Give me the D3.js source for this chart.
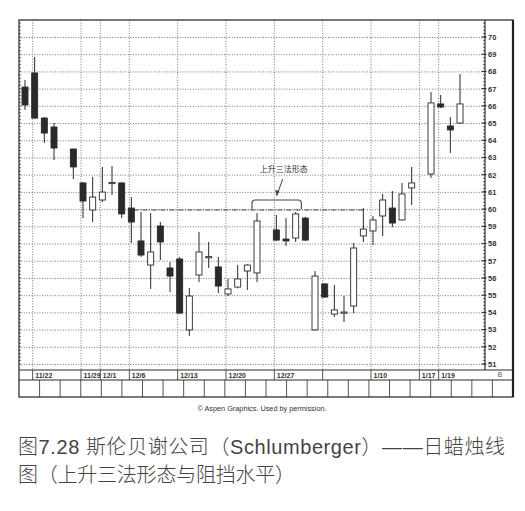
<!DOCTYPE html>
<html><head><meta charset="utf-8">
<script src="https://cdn.jsdelivr.net/npm/d3@7"></script>
<style>body{margin:0;background:#fff;} svg{display:block;}</style>
</head><body>
<script>
// ---- data ----
const slots = ["11/19","11/22","11/23","11/24","11/25","11/26","11/29","11/30","12/1","12/2","12/3",
  "12/6","12/7","12/8","12/9","12/10","12/13","12/14","12/15","12/16","12/17","12/20","12/21","12/22","12/23","12/24",
  "12/27","12/28","12/29","12/30","12/31","1/3","1/4","1/5","1/6","1/7","1/10","1/11","1/12","1/13","1/14",
  "1/17","1/18","1/19","1/20","1/21","1/24","1/25"];
const dates = ["11/19","11/22","11/23","11/24","11/26","11/29","11/30","12/1","12/2","12/3",
  "12/6","12/7","12/8","12/9","12/10","12/13","12/14","12/15","12/16","12/17","12/20","12/21","12/22","12/23",
  "12/27","12/28","12/29","12/30","12/31","1/3","1/4","1/5","1/6","1/7","1/10","1/11","1/12","1/13","1/14",
  "1/18","1/19","1/20","1/21"];
const open  = [67.09,67.91,65.29,64.77,63.49,61.52,59.95,60.53,61.50,61.52,
  60.06,58.15,56.75,59.02,56.58,57.10,52.98,56.17,57.20,56.64,55.07,55.47,56.40,56.29,
  58.79,58.26,58.32,59.48,52.98,55.65,53.90,54.00,54.37,58.44,58.73,59.60,60.06,59.37,61.23,
  62.04,66.11,64.83,65.00];
const high  = [67.50,68.84,65.35,65.00,63.52,61.57,61.87,62.45,62.50,61.55,
  60.70,59.83,59.77,59.25,56.93,57.22,55.42,58.67,58.09,57.22,55.94,56.75,56.80,59.77,
  59.66,59.48,59.83,59.55,56.40,55.70,55.59,54.95,58.03,60.06,59.60,60.88,61.05,61.52,62.45,
  66.80,66.63,65.35,67.85];
const low   = [65.76,65.25,63.84,62.85,61.75,59.48,59.25,60.41,60.82,59.48,
  58.03,57.22,55.36,57.04,55.18,53.90,52.63,55.76,56.58,55.12,54.95,55.40,55.30,55.76,
  58.15,57.86,58.09,58.15,52.95,54.85,53.73,53.44,53.96,58.09,57.91,58.44,58.96,59.33,60.24,
  61.81,65.87,63.26,64.97];
const close = [66.05,65.29,64.42,63.55,62.45,60.47,60.70,60.99,61.55,59.72,
  59.25,57.33,57.51,58.09,56.11,53.96,54.95,57.51,57.24,55.53,55.36,55.94,56.75,59.31,
  58.20,58.15,59.72,58.20,56.11,54.89,54.14,54.02,57.74,58.84,59.37,60.53,59.19,60.88,61.52,
  66.17,65.93,64.60,66.11];
const gridDates  = ["11/22","11/29","12/1","12/6","12/13","12/20","12/27","1/3","1/10","1/17","1/19"];
const gridLabels = ["11/22","11/29","12/1","12/6","12/13","12/20","12/27","","1/10","1/17","1/19"];
const priceTicks = d3.range(51, 71);
const resistance = 59.95;
const resistFrom = "12/6", resistTo = "1/7";
const patternFrom = "12/23", patternTo = "12/30";
const patternLabel = "上升三法形态";
const cells = d3.range(24);
const credit = "© Aspen Graphics. Used by permission.";
const caption1 = "图7.28 斯伦贝谢公司（Schlumberger）——日蜡烛线";
const caption2 = "图（上升三法形态与阻挡水平）";

// ---- layout ----
const L = 19, T = 20, AX = 485, R = 513, PB = 370, DB = 380, BB = 397;
const svg = d3.select("body").append("svg").attr("width", 525).attr("height", 511);
const x = d3.scalePoint().domain(slots).range([25, 479.35]);
const y = d3.scaleLinear().domain([51, 70]).range([364, 37]);
const ink = "#2a2a2a";

// horizontal dotted gridlines
svg.append("g").attr("transform", `translate(${AX},0)`)
  .call(d3.axisLeft(y).tickValues(priceTicks).tickSize(AX - L).tickFormat(""))
  .call(g => g.select(".domain").remove())
  .call(g => g.selectAll("line").attr("stroke", "#777").attr("stroke-dasharray", "1,1.6"));

// vertical dotted gridlines
svg.append("g").selectAll("line").data(gridDates).join("line")
  .attr("x1", d => x(d) - 2).attr("x2", d => x(d) - 2)
  .attr("y1", T).attr("y2", PB)
  .attr("stroke", "#777").attr("stroke-dasharray", "1,1.6");

// resistance line
svg.append("line")
  .attr("x1", x(resistFrom) + 2).attr("x2", x(resistTo))
  .attr("y1", y(resistance)).attr("y2", y(resistance))
  .attr("stroke", "#444").attr("stroke-width", 1.1).attr("stroke-dasharray", "5,1.5,1,1.5");

// candles
const rows = dates.map((d, i) => ({d, o: open[i], h: high[i], l: low[i], c: close[i]}));
const cg = svg.append("g");
cg.selectAll("line.wick").data(rows).join("line").attr("class", "wick")
  .attr("x1", r => x(r.d)).attr("x2", r => x(r.d))
  .attr("y1", r => y(r.h)).attr("y2", r => y(r.l))
  .attr("stroke", ink).attr("stroke-width", 1);
const bw = 6;
cg.selectAll("rect").data(rows).join("rect")
  .attr("x", r => x(r.d) - bw / 2)
  .attr("y", r => y(Math.max(r.o, r.c)))
  .attr("width", bw)
  .attr("height", r => Math.max(1.2, Math.abs(y(r.o) - y(r.c))))
  .attr("fill", r => r.c < r.o ? ink : "#fff")
  .attr("stroke", ink).attr("stroke-width", 0.9);

// pattern bracket + arrow + label
const bx1 = x(patternFrom) - 5, bx2 = x(patternTo) - 4;
const byTop = y(60.53), byBot = y(resistance) - 1;
svg.append("path")
  .attr("d", `M${bx1},${byBot} L${bx1},${byTop + 3} Q${bx1},${byTop} ${bx1 + 3},${byTop} L${bx2 - 3},${byTop} Q${bx2},${byTop} ${bx2},${byTop + 3} L${bx2},${byBot}`)
  .attr("fill", "none").attr("stroke", "#444").attr("stroke-width", 1.1);
const ax1 = (bx1 + bx2) / 2 + 6, ay1 = byTop - 21, ax2 = (bx1 + bx2) / 2, ay2 = byTop - 4;
svg.append("line").attr("x1", ax1).attr("y1", ay1).attr("x2", ax2).attr("y2", ay2)
  .attr("stroke", "#444").attr("stroke-width", 1);
svg.append("path")
  .attr("d", `M${ax2},${ay2} L${ax2 - 1.5},${ay2 - 6} L${ax2 + 2.8},${ay2 - 5} Z`).attr("fill", "#444");
svg.append("text").attr("x", (bx1 + bx2) / 2 + 7).attr("y", byTop - 28)
  .attr("text-anchor", "middle").attr("font-family", "Noto Sans CJK SC, sans-serif")
  .attr("font-size", 8).attr("fill", "#333").text(patternLabel);

// right price axis
const yAxis = svg.append("g").attr("transform", `translate(${AX},0)`)
  .call(d3.axisRight(y).tickValues(priceTicks).tickSize(0).tickPadding(3).tickFormat(d3.format("d")));
yAxis.select(".domain").remove();
yAxis.selectAll("text").attr("font-family", "Liberation Sans Narrow, Arial Narrow, Liberation Sans, sans-serif")
  .attr("font-weight", "bold").attr("font-size", 7.5).attr("fill", "#333");
svg.append("line").attr("x1", AX).attr("x2", AX).attr("y1", T).attr("y2", PB)
  .attr("stroke", ink).attr("stroke-width", 1.2);
const minor = d3.range(51 * 5, 70 * 5 + 5).map(v => v / 5);
svg.append("g").selectAll("line").data(minor).join("line")
  .attr("x1", AX - 2).attr("x2", AX).attr("y1", d => y(d)).attr("y2", d => y(d))
  .attr("stroke", ink).attr("stroke-width", 0.7);
svg.append("g").selectAll("line").data(priceTicks).join("line")
  .attr("x1", AX - 3.5).attr("x2", AX + 1.5).attr("y1", d => y(d)).attr("y2", d => y(d))
  .attr("stroke", ink).attr("stroke-width", 1);
// left ruler ticks
svg.append("g").selectAll("line").data(minor).join("line")
  .attr("x1", L).attr("x2", L + 2).attr("y1", d => y(d)).attr("y2", d => y(d))
  .attr("stroke", ink).attr("stroke-width", 0.7);

// date strip
svg.append("g").selectAll("line").data(gridDates).join("line")
  .attr("x1", d => x(d) - 2).attr("x2", d => x(d) - 2).attr("y1", PB).attr("y2", DB)
  .attr("stroke", ink).attr("stroke-width", 0.8);
svg.append("g").selectAll("text").data(gridDates).join("text")
  .attr("x", d => x(d) + 0.5).attr("y", DB - 2.5)
  .attr("font-family", "Liberation Sans Narrow, Arial Narrow, Liberation Sans, sans-serif")
  .attr("font-weight", "bold").attr("font-size", 7).attr("fill", "#333")
  .text((d, i) => gridLabels[i]);
svg.append("text").attr("x", 500).attr("y", DB - 3).attr("text-anchor", "middle")
  .attr("font-family", "Liberation Sans, sans-serif").attr("font-size", 6.5).attr("fill", "#555").text("B");

// bottom cells
const cx = d3.scaleBand().domain(cells).range([L, R]);
svg.append("g").selectAll("line").data(cells.slice(1)).join("line")
  .attr("x1", d => cx(d)).attr("x2", d => cx(d)).attr("y1", DB).attr("y2", BB)
  .attr("stroke", "#444").attr("stroke-width", 0.9);

// frame lines
const hl = [[L, R, PB], [L, R, DB]];
svg.append("g").selectAll("line").data(hl).join("line")
  .attr("x1", d => d[0]).attr("x2", d => d[1]).attr("y1", d => d[2]).attr("y2", d => d[2])
  .attr("stroke", ink).attr("stroke-width", 1);
svg.append("rect").attr("x", L).attr("y", T).attr("width", R - L).attr("height", BB - T)
  .attr("fill", "none").attr("stroke", "#333").attr("stroke-width", 1.3);
svg.append("line").attr("x1", R).attr("x2", R).attr("y1", T).attr("y2", BB)
  .attr("stroke", "#222").attr("stroke-width", 2.2);

// credit & caption
svg.append("text").attr("x", 262).attr("y", 411).attr("text-anchor", "middle")
  .attr("font-family", "Liberation Sans, Arial, sans-serif").attr("font-size", 7.3).attr("fill", "#333")
  .text(credit);
const capFont = "Liberation Sans, Noto Sans CJK SC, sans-serif";
svg.append("text").attr("x", 18).attr("y", 454)
  .attr("font-family", capFont).attr("font-size", 20).attr("font-weight", 300).attr("fill", "#444")
  .attr("textLength", 487).attr("lengthAdjust", "spacing").text(caption1);
svg.append("text").attr("x", 18).attr("y", 482)
  .attr("font-family", capFont).attr("font-size", 20).attr("font-weight", 300).attr("fill", "#444")
  .attr("textLength", 277).attr("lengthAdjust", "spacing").text(caption2);
</script>
</body></html>
